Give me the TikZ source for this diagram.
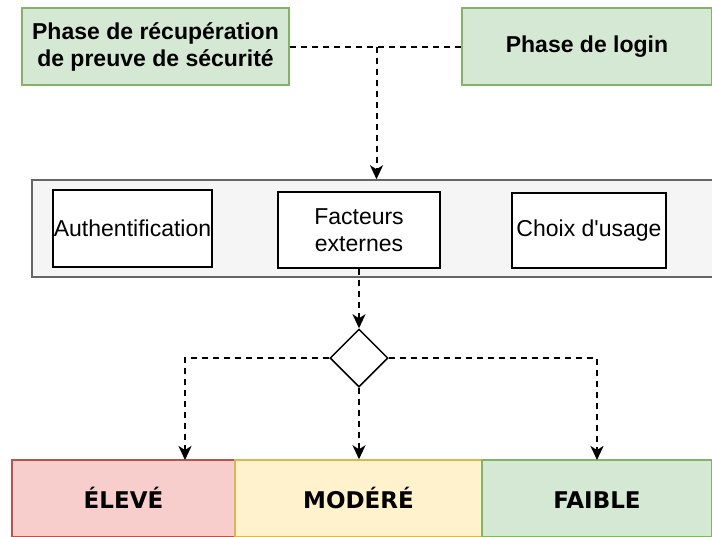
\documentclass[tikz,border=0pt]{standalone}
\usepackage{fontspec}
\setmainfont{Liberation Sans}
\newfontfamily\dvfont{DejaVu Sans}
\usetikzlibrary{shapes.geometric,arrows.meta}
\definecolor{gfill}{HTML}{D5E8D4}
\definecolor{gline}{HTML}{82B366}
\definecolor{rfill}{HTML}{F8CECC}
\definecolor{rline}{HTML}{B85450}
\definecolor{yfill}{HTML}{FFF2CC}
\definecolor{yline}{HTML}{D6B656}
\definecolor{cfill}{HTML}{F5F5F5}
\definecolor{cline}{HTML}{666666}
\tikzset{
  txt/.style={font=\fontsize{23}{27}\selectfont, align=center, inner sep=0pt},
  greenbox/.style={txt, draw=gline, fill=gfill, line width=1.5pt, font=\fontsize{23}{27}\selectfont\bfseries},
  whitebox/.style={txt, draw=black, fill=white, line width=1.5pt},
  levelbox/.style={txt, line width=1.5pt, minimum height=77pt, text height=20pt, text depth=0pt, font=\fontsize{23}{27}\selectfont\dvfont\bfseries},
  conn/.style={draw=black, line width=2pt, dash pattern=on 6pt off 5pt},
  arr/.style={conn, -{Stealth[length=14pt,width=13pt,inset=4pt]}}
}
\begin{document}
\begin{tikzpicture}[x=1pt,y=-1pt]
\useasboundingbox (0,0) rectangle (712,536);
\clip (0,0) rectangle (712,536);
% top boxes
\node[greenbox, minimum width=267pt, minimum height=77pt] (rec) at (155.5,46.5) {Phase de récupération\\de preuve de sécurité};
\node[greenbox, minimum width=250pt, minimum height=77pt] (login) at (587,46.5) {Phase de login};
% container
\node[draw=cline, fill=cfill, line width=1.5pt, minimum width=682pt, minimum height=97pt, inner sep=0pt] (cont) at (373,228.5) {};
\node[whitebox, minimum width=159pt, minimum height=77pt] (auth) at (132.5,228.5) {Authentification};
\node[whitebox, minimum width=162pt, minimum height=76pt] (fact) at (359,230) {Facteurs\\externes};
\node[whitebox, minimum width=154pt, minimum height=75pt] (choix) at (589,230.5) {Choix d\textquotesingle usage};
% diamond
\node[draw=black, fill=white, line width=1.5pt, diamond, minimum width=58pt, minimum height=58pt, inner sep=0pt] (dec) at (359,358) {};
% level boxes
\node[levelbox, draw=rline, fill=rfill, minimum width=223pt] (elev) at (123.5,498.5) {ÉLEVÉ};
\node[levelbox, draw=yline, fill=yfill, minimum width=247pt] (mod) at (358.5,498.5) {MODÉRÉ};
\node[levelbox, draw=gline, fill=gfill, minimum width=230pt] (faib) at (597,498.5) {FAIBLE};
% connectors
\coordinate (j) at (376.5,46.5);
\coordinate (ea) at (185,460);
\coordinate (fa) at (597,460);
\draw[conn] (rec.east) -- (login.west);
\draw[arr] (j) -- (j |- cont.north);
\draw[arr] (fact.south) -- (dec.north);
\draw[arr] (dec.west) -| (ea);
\draw[arr] (dec.south) -- (dec.south |- mod.north);
\draw[arr] (dec.east) -| (fa);
\end{tikzpicture}
\end{document}
